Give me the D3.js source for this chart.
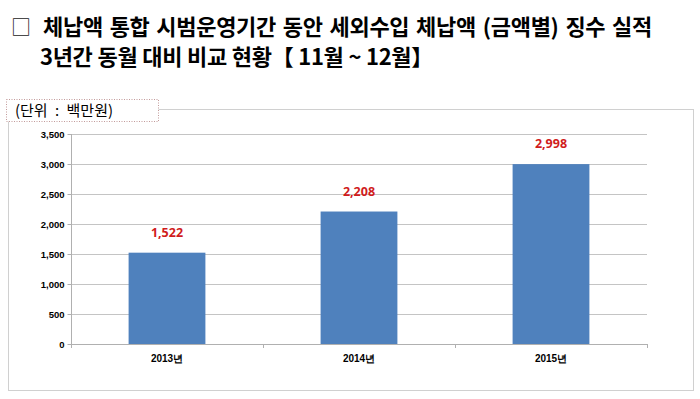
<!DOCTYPE html>
<html>
<head>
<meta charset="utf-8">
<script src="https://cdn.jsdelivr.net/npm/d3@7"></script>
<style>
  body { margin: 0; background: #fff; }
  svg { display: block; }
</style>
</head>
<body>
<div id="chart"></div>
<script>
const titleLines = [
  '체납액 통합 시범운영기간 동안 세외수입 체납액 (금액별) 징수 실적',
  '3년간 동월 대비 비교 현황【 11월 ~ 12월】',
];
const unitLabel = '(단위 : 백만원)';
const categories = ['2013년', '2014년', '2015년'];
const values = [1522, 2208, 2998];
const yTicks = [0, 500, 1000, 1500, 2000, 2500, 3000, 3500];

const width = 700;
const height = 399;
const margin = { top: 134, right: 53, left: 71 };

const svg = d3.select('#chart').append('svg')
  .attr('width', width)
  .attr('height', height);

// stretch word gaps so a line ends where the reference does
function fitWords(sel, target) {
  sel.each(function (d, i) {
    const t = typeof target === 'function' ? target(d, i) : target;
    const spaces = (this.textContent.match(/ /g) || []).length;
    const w = this.getComputedTextLength();
    if (spaces) d3.select(this).attr('word-spacing', Math.max(0, (t - w) / spaces));
  });
}

// Title
svg.append('text')
  .attr('x', 11)
  .attr('y', 35)
  .attr('font-family', '"Noto Sans CJK KR", sans-serif')
  .attr('font-size', 20)
  .attr('fill', '#222')
  .text('□');

const titleX = [43, 40];
const titleW = [609, 393];
svg.selectAll('text.title')
  .data(titleLines)
  .enter()
  .append('text')
  .attr('class', 'title')
  .attr('x', (d, i) => titleX[i])
  .attr('y', (d, i) => 35 + i * 30)
  .attr('font-family', '"Noto Sans CJK KR", sans-serif')
  .attr('font-weight', 700)
  .attr('font-size', 22)
  .attr('letter-spacing', -0.3)
  .attr('fill', '#000')
  .text((d) => d)
  .call(fitWords, (d, i) => titleW[i]);

// Chart frame
svg.append('rect')
  .attr('x', 8.5)
  .attr('y', 109.5)
  .attr('width', 685)
  .attr('height', 281)
  .attr('fill', '#fff')
  .attr('stroke', '#d0d0d0');

// Unit label box
svg.append('rect')
  .attr('x', 6.5)
  .attr('y', 99.5)
  .attr('width', 152)
  .attr('height', 22)
  .attr('fill', '#fff')
  .attr('stroke', '#c29a9a')
  .attr('stroke-dasharray', '1,1.5');

svg.append('text')
  .attr('x', 15)
  .attr('y', 116)
  .attr('font-family', '"Noto Sans CJK KR", sans-serif')
  .attr('font-size', 15)
  .attr('fill', '#000')
  .text(unitLabel)
  .call(fitWords, 98);

const innerW = width - margin.left - margin.right;

const g = svg.append('g')
  .attr('transform', `translate(${margin.left},${margin.top})`);

const x = d3.scaleBand()
  .domain(categories)
  .range([0, innerW])
  .paddingInner(0.6)
  .paddingOuter(0.3);

const y = d3.scaleLinear()
  .domain([0, 3500])
  .range([210, 0]);

// Gridlines
g.selectAll('line.grid')
  .data(yTicks.filter((d) => d > 0))
  .enter()
  .append('line')
  .attr('class', 'grid')
  .attr('x1', 0)
  .attr('x2', innerW)
  .attr('y1', (d) => Math.round(y(d)) + 0.5)
  .attr('y2', (d) => Math.round(y(d)) + 0.5)
  .attr('stroke', '#c4c4c4');

// Y axis
const yAxis = g.append('g')
  .attr('transform', 'translate(0.5,0)')
  .call(d3.axisLeft(y).tickValues(yTicks).tickSize(4).tickPadding(3)
    .tickFormat(d3.format(',')));
yAxis.select('.domain').attr('stroke', '#b0b0b0').attr('d', `M0,0V${y(0)}`);
yAxis.selectAll('.tick line').attr('stroke', '#b0b0b0');
yAxis.selectAll('.tick text')
  .attr('font-family', 'Arial, "Liberation Sans", sans-serif')
  .attr('font-weight', 700)
  .attr('font-size', 9.5)
  .attr('fill', '#000');

// Bars
g.selectAll('rect.bar')
  .data(values)
  .enter()
  .append('rect')
  .attr('class', 'bar')
  .attr('x', (d, i) => x(categories[i]))
  .attr('y', (d) => y(d))
  .attr('width', x.bandwidth())
  .attr('height', (d) => y(0) - y(d))
  .attr('fill', '#4f81bd');

// X axis
const xAxis = g.append('g')
  .attr('transform', `translate(0,${Math.round(y(0)) + 0.5})`)
  .call(d3.axisBottom(x).tickSize(0).tickPadding(10));
xAxis.select('.domain').attr('stroke', '#b0b0b0').attr('d', `M0,0H${innerW}`);
xAxis.selectAll('.tick text')
  .attr('font-family', 'Arial, "Liberation Sans", sans-serif')
  .attr('font-weight', 700)
  .attr('font-size', 10)
  .attr('fill', '#000');

const step = innerW / categories.length;
g.selectAll('line.xtick')
  .data(d3.range(categories.length + 1))
  .enter()
  .append('line')
  .attr('class', 'xtick')
  .attr('x1', (d) => Math.round(d * step) + 0.5)
  .attr('x2', (d) => Math.round(d * step) + 0.5)
  .attr('y1', y(0))
  .attr('y2', y(0) + 4)
  .attr('stroke', '#b0b0b0');

// Value labels
g.selectAll('text.value')
  .data(values)
  .enter()
  .append('text')
  .attr('class', 'value')
  .attr('x', (d, i) => x(categories[i]) + x.bandwidth() / 2)
  .attr('y', (d) => y(d) - 16)
  .attr('text-anchor', 'middle')
  .attr('font-family', '"Noto Sans", sans-serif')
  .attr('font-weight', 700)
  .attr('font-size', 12.5)
  .attr('fill', '#d01c1c')
  .text((d) => d3.format(',')(d));
</script>
</body>
</html>
